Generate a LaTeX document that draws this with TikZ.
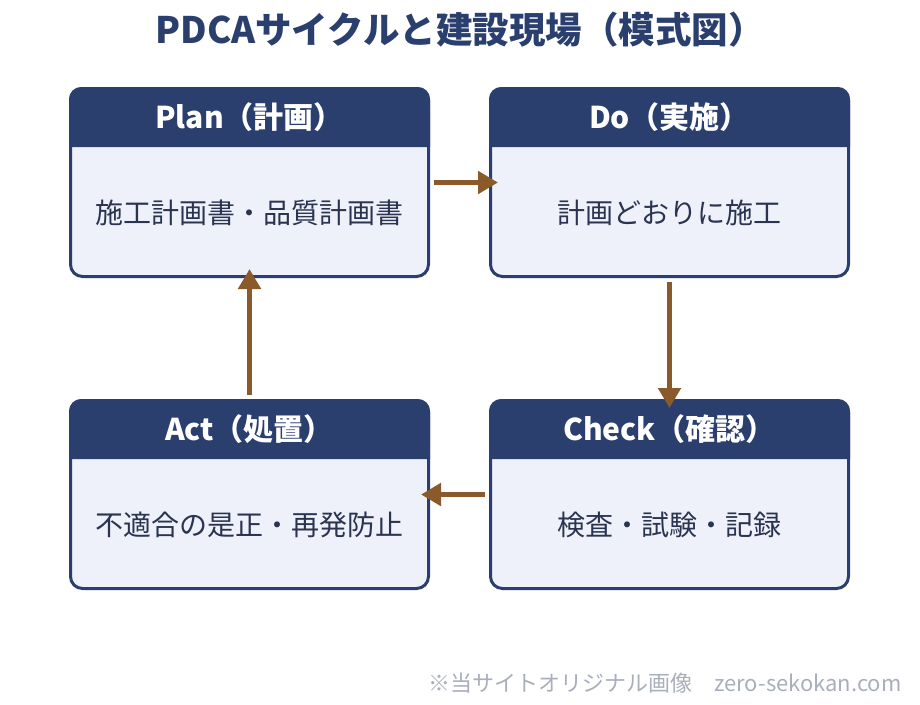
\documentclass[tikz,border=0pt]{standalone}
\usepackage{fontspec}
\setmainfont{Noto Sans CJK JP}
\usetikzlibrary{arrows.meta}

\definecolor{navy}{HTML}{2B3F6F}
\definecolor{paper}{HTML}{EEF1F9}
\definecolor{ink}{HTML}{2A3450}
\definecolor{brown}{HTML}{8B5A2B}
\definecolor{mark}{HTML}{A9AFBA}

\begin{document}
\begin{tikzpicture}[x=1pt, y=-1pt,
		card/.style={draw=navy, fill=paper, line width=3pt, rounded corners=12pt,
			minimum width=358pt, minimum height=188pt, inner sep=0pt},
		headtxt/.style={text=white, font=\bfseries\fontsize{30}{34}\selectfont},
		bodytxt/.style={text=ink, font=\fontsize{28}{32}\selectfont},
		flow/.style={draw=brown, line width=5pt, -{Triangle[length=20pt,width=22pt]},
			shorten <=4pt, shorten >=-9pt}]
		\useasboundingbox (0,0) rectangle (920,704);
		\node[text=navy, font=\bfseries\fontsize{36.5}{42}\selectfont] (title) at (460,30) {PDCAサイクルと建設現場（模式図）};
		% the four cards
		\node[card] (plan) at (249.5,182.5) {};
		\node[card] (do) at (669.5,182.5) {};
		\node[card] (act) at (249.5,494.5) {};
		\node[card] (check) at (669.5,494.5) {};
		\fill[navy] ([yshift=-60pt]plan.north west) {[rounded corners=12pt] -- (plan.north west) -- (plan.north east)} -- ([yshift=-60pt]plan.north east) -- cycle;
		\fill[navy] ([yshift=-60pt]do.north west) {[rounded corners=12pt] -- (do.north west) -- (do.north east)} -- ([yshift=-60pt]do.north east) -- cycle;
		\fill[navy] ([yshift=-60pt]act.north west) {[rounded corners=12pt] -- (act.north west) -- (act.north east)} -- ([yshift=-60pt]act.north east) -- cycle;
		\fill[navy] ([yshift=-60pt]check.north west) {[rounded corners=12pt] -- (check.north west) -- (check.north east)} -- ([yshift=-60pt]check.north east) -- cycle;
		\node[headtxt] (planhead) at (249.5,117) {Plan（計画）};
		\node[headtxt] (dohead) at (669.5,117) {Do（実施）};
		\node[headtxt] (acthead) at (249.5,429) {Act（処置）};
		\node[headtxt] (checkhead) at (669.5,429) {Check（確認）};
		\node[bodytxt] (planbody) at (249.5,213) {施工計画書・品質計画書};
		\node[bodytxt] (dobody) at (669.5,213) {計画どおりに施工};
		\node[bodytxt] (actbody) at (249.5,525) {不適合の是正・再発防止};
		\node[bodytxt] (checkbody) at (669.5,525) {検査・試験・記録};
		% the cycle
		\draw[flow] (plan.east) -- (do.west);
		\draw[flow] (do.south) -- (check.north);
		\draw[flow] (check.west) -- (act.east);
		\draw[flow] (act.north) -- (plan.south);
		\node[text=mark, font=\fontsize{22}{26}\selectfont, anchor=east] (credit) at (905,683) {※当サイトオリジナル画像\quad zero-sekokan.com};
\end{tikzpicture}
\end{document}
